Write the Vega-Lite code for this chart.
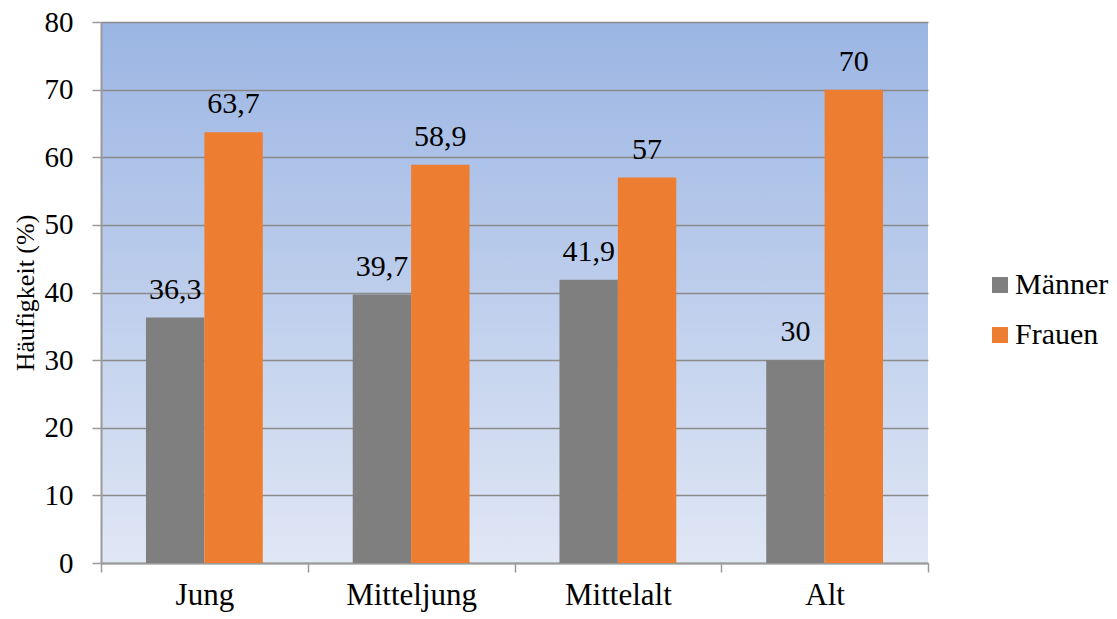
{
  "$schema": "https://vega.github.io/schema/vega-lite/v6.json",
  "autosize": {"type": "none"},
  "padding": {"left": 101, "top": 22, "right": 189, "bottom": 56},
  "width": 827,
  "height": 541,
  "background": "white",
  "data": {
    "values": [
      {"Altersgruppe": "Jung", "Geschlecht": "Männer", "Wert": 36.3, "Label": "36,3"},
      {"Altersgruppe": "Jung", "Geschlecht": "Frauen", "Wert": 63.7, "Label": "63,7"},
      {"Altersgruppe": "Mitteljung", "Geschlecht": "Männer", "Wert": 39.7, "Label": "39,7"},
      {"Altersgruppe": "Mitteljung", "Geschlecht": "Frauen", "Wert": 58.9, "Label": "58,9"},
      {"Altersgruppe": "Mittelalt", "Geschlecht": "Männer", "Wert": 41.9, "Label": "41,9"},
      {"Altersgruppe": "Mittelalt", "Geschlecht": "Frauen", "Wert": 57, "Label": "57"},
      {"Altersgruppe": "Alt", "Geschlecht": "Männer", "Wert": 30, "Label": "30"},
      {"Altersgruppe": "Alt", "Geschlecht": "Frauen", "Wert": 70, "Label": "70"}
    ]
  },
  "encoding": {
    "x": {
      "field": "Altersgruppe",
      "type": "nominal",
      "sort": ["Jung", "Mitteljung", "Mittelalt", "Alt"],
      "scale": {"paddingInner": 0, "paddingOuter": 0},
      "axis": {
        "title": null,
        "labelAngle": 0,
        "tickBand": "extent",
        "grid": false,
        "tickSize": 9,
        "tickColor": "#9a9a9a",
        "tickWidth": 1.5,
        "domainColor": "#9a9a9a",
        "domainWidth": 2,
        "labelFontSize": 31,
        "labelColor": "#000000",
        "labelPadding": 8
      }
    },
    "xOffset": {
      "field": "Geschlecht",
      "type": "nominal",
      "sort": ["Männer", "Frauen"],
      "scale": {"paddingInner": 0, "paddingOuter": 0.77}
    },
    "y": {
      "field": "Wert",
      "type": "quantitative",
      "scale": {"domain": [0, 80]},
      "axis": {
        "title": "Häufigkeit (%)",
        "titleFontSize": 26,
        "titleFontWeight": "normal",
        "titleColor": "#000000",
        "titlePadding": 6,
        "values": [0, 10, 20, 30, 40, 50, 60, 70, 80],
        "grid": true,
        "gridColor": "#8a8a8a",
        "gridWidth": 1.5,
        "tickSize": 9,
        "tickColor": "#9a9a9a",
        "tickWidth": 1.5,
        "domainColor": "#9a9a9a",
        "domainWidth": 2,
        "labelFontSize": 29,
        "labelColor": "#000000",
        "labelPadding": 19
      }
    }
  },
  "layer": [
    {
      "mark": {"type": "bar"},
      "encoding": {
        "color": {
          "field": "Geschlecht",
          "type": "nominal",
          "sort": ["Männer", "Frauen"],
          "scale": {"domain": ["Männer", "Frauen"], "range": ["#7f7f7f", "#ed7d31"]},
          "legend": {
            "title": null,
            "orient": "none",
            "legendX": 884,
            "legendY": 248,
            "padding": 0,
            "symbolType": "square",
            "symbolSize": 256,
            "symbolStrokeWidth": 0,
            "labelFontSize": 30,
            "labelColor": "#000000",
            "labelOffset": 0,
            "rowPadding": 20
          }
        }
      }
    },
    {
      "mark": {
        "type": "text",
        "baseline": "alphabetic",
        "dy": -19,
        "fontSize": 30,
        "color": "#000000"
      },
      "encoding": {
        "text": {"field": "Label"}
      }
    }
  ],
  "config": {
    "font": "Liberation Serif, Times New Roman, serif",
    "axis": {"labelFont": "Liberation Serif, Times New Roman, serif", "titleFont": "Liberation Serif, Times New Roman, serif"},
    "legend": {"labelFont": "Liberation Serif, Times New Roman, serif"},
    "text": {"font": "Liberation Serif, Times New Roman, serif"},
    "view": {
      "stroke": null,
      "fill": {
        "gradient": "linear",
        "x1": 0, "y1": 0, "x2": 0, "y2": 1,
        "stops": [
          {"offset": 0, "color": "#9bb5e3"},
          {"offset": 1, "color": "#e0e7f5"}
        ]
      }
    }
  }
}
